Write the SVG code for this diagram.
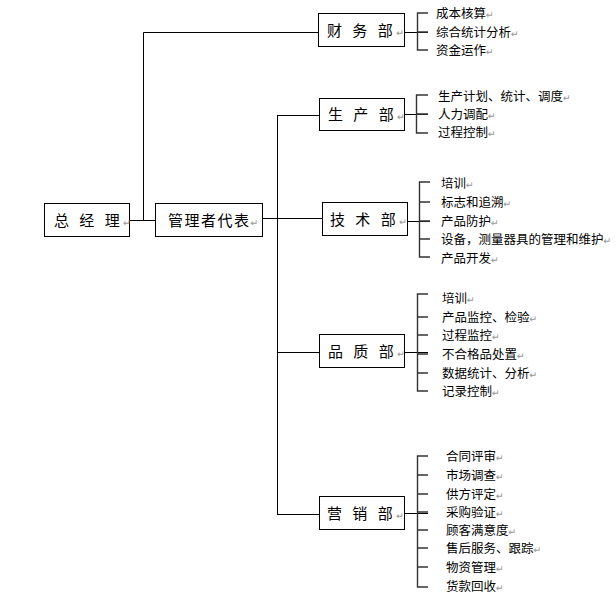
<svg xmlns="http://www.w3.org/2000/svg" width="616" height="596" viewBox="0 0 616 596">
<style>
.box{fill:#fff;stroke:#000;stroke-width:1}
.ln{fill:none;stroke:#000;stroke-width:1}
.br{fill:none;stroke:#333;stroke-width:1.4}
.lbl{font-family:"Noto Sans CJK SC","Noto Sans CJK TC",sans-serif;font-size:15px;fill:#000}
.it{font-family:"Noto Sans CJK SC","Noto Sans CJK TC",sans-serif;font-size:12.5px;fill:#000}
.pm{font-family:"DejaVu Sans",sans-serif;font-size:9.5px;fill:#999}
</style>
<rect width="616" height="596" fill="#fff"/>
<g id="connectors">
<path class="ln" d="M129 220.5H155M143.5 220.5V32.5H318"/>
<path class="ln" d="M262 218.5H322M277.5 115V514M277 115.5H319M277 352.5H319M277 514.5H319"/>
<path class="ln" d="M404 32.5H428M404 114.5H428M407 221.5H430M404 352.5H428M404 513.5H428"/>
</g>
<g id="zongjingli">
<rect class="box" x="44.5" y="203.5" width="85" height="33"/>
<text class="lbl" x="54" y="226" letter-spacing="3.5" xml:space="preserve">总 经 理<tspan class="pm" letter-spacing="0">↵</tspan></text>
</g>
<g id="guanlizhedaibiao">
<rect class="box" x="155.5" y="203.5" width="107" height="33"/>
<text class="lbl" x="168" y="226" letter-spacing="1.5">管理者代表<tspan class="pm" letter-spacing="0">↵</tspan></text>
</g>
<g id="caiwubu">
<rect class="box" x="318.5" y="13.5" width="86" height="33"/>
<text class="lbl" x="327" y="36" letter-spacing="3.5" xml:space="preserve">财 务 部<tspan class="pm" letter-spacing="0">↵</tspan></text>
<path class="br" d="M428 13H417.5V50H428M417.5 32H428"/>
<text class="it" x="436" y="17.5">成本核算<tspan class="pm">↵</tspan></text>
<text class="it" x="436" y="36.5">综合统计分析<tspan class="pm">↵</tspan></text>
<text class="it" x="436" y="54.5">资金运作<tspan class="pm">↵</tspan></text>
</g>
<g id="shengchanbu">
<rect class="box" x="319.5" y="98.5" width="85" height="32"/>
<text class="lbl" x="328" y="120" letter-spacing="3.5" xml:space="preserve">生 产 部<tspan class="pm" letter-spacing="0">↵</tspan></text>
<path class="br" d="M428 95H416.5V133H428M416.5 114H428"/>
<text class="it" x="438" y="100.5">生产计划、统计、调度<tspan class="pm">↵</tspan></text>
<text class="it" x="438" y="118.5">人力调配<tspan class="pm">↵</tspan></text>
<text class="it" x="438" y="136.5">过程控制<tspan class="pm">↵</tspan></text>
</g>
<g id="jishubu">
<rect class="box" x="322.5" y="202.5" width="85" height="33"/>
<text class="lbl" x="330" y="225" letter-spacing="3.5" xml:space="preserve">技 术 部<tspan class="pm" letter-spacing="0">↵</tspan></text>
<path class="br" d="M430 182H419.5V257H430M419.5 202H430M419.5 221H430M419.5 239H430"/>
<text class="it" x="441" y="187.5">培训<tspan class="pm">↵</tspan></text>
<text class="it" x="441" y="206.5">标志和追溯<tspan class="pm">↵</tspan></text>
<text class="it" x="441" y="225.5">产品防护<tspan class="pm">↵</tspan></text>
<text class="it" x="441" y="243.5">设备，测量器具的管理和维护<tspan class="pm">↵</tspan></text>
<text class="it" x="441" y="262.5">产品开发<tspan class="pm">↵</tspan></text>
</g>
<g id="pinzhibu">
<rect class="box" x="319.5" y="334.5" width="85" height="33"/>
<text class="lbl" x="328" y="357" letter-spacing="3.5" xml:space="preserve">品 质 部<tspan class="pm" letter-spacing="0">↵</tspan></text>
<path class="br" d="M428 294H417.5V391H428M417.5 317H428M417.5 335H428M417.5 354H428M417.5 373H428"/>
<text class="it" x="442" y="302.5">培训<tspan class="pm">↵</tspan></text>
<text class="it" x="442" y="321.5">产品监控、检验<tspan class="pm">↵</tspan></text>
<text class="it" x="442" y="339.5">过程监控<tspan class="pm">↵</tspan></text>
<text class="it" x="442" y="358.5">不合格品处置<tspan class="pm">↵</tspan></text>
<text class="it" x="442" y="377.5">数据统计、分析<tspan class="pm">↵</tspan></text>
<text class="it" x="442" y="395.5">记录控制<tspan class="pm">↵</tspan></text>
</g>
<g id="yingxiaobu">
<rect class="box" x="319.5" y="496.5" width="85" height="33"/>
<text class="lbl" x="327" y="519" letter-spacing="3.5" xml:space="preserve">营 销 部<tspan class="pm" letter-spacing="0">↵</tspan></text>
<path class="br" d="M428 456H417.5V587H428M417.5 475H428M417.5 494H428M417.5 512H428M417.5 530H428M417.5 548H428M417.5 567H428"/>
<text class="it" x="446" y="461">合同评审<tspan class="pm">↵</tspan></text>
<text class="it" x="446" y="479.5">市场调查<tspan class="pm">↵</tspan></text>
<text class="it" x="446" y="498.5">供方评定<tspan class="pm">↵</tspan></text>
<text class="it" x="446" y="516.5">采购验证<tspan class="pm">↵</tspan></text>
<text class="it" x="446" y="534.5">顾客满意度<tspan class="pm">↵</tspan></text>
<text class="it" x="446" y="552.5">售后服务、跟踪<tspan class="pm">↵</tspan></text>
<text class="it" x="446" y="571.5">物资管理<tspan class="pm">↵</tspan></text>
<text class="it" x="446" y="590.5">货款回收<tspan class="pm">↵</tspan></text>
</g>
</svg>
